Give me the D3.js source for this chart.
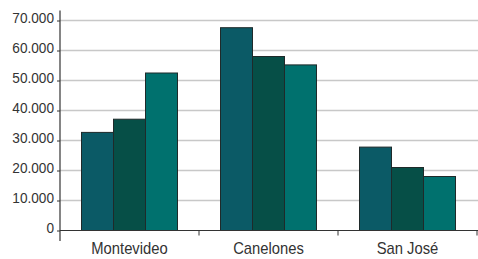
<!DOCTYPE html>
<html>
<head>
<script src="https://d3js.org/d3.v7.min.js"></script>
<style>
body { margin: 0; background: #fff; }
text { font-family: "Liberation Sans", Arial, sans-serif; fill: #333; }
</style>
</head>
<body>
<script>
var categories = ["Montevideo", "Canelones", "San José"];
var series1 = [32700, 67600, 27800];
var series2 = [37100, 58000, 21000];
var series3 = [52500, 55200, 18000];
var yTicks = [0, 10000, 20000, 30000, 40000, 50000, 60000, 70000];
var colors = ["#0b5a66", "#064f47", "#00716e"];

var width = 478, height = 259;
var svg = d3.select("body").append("svg")
  .attr("width", width)
  .attr("height", height);

var x = d3.scaleBand()
  .domain(categories)
  .range([60, 477]);

var y = d3.scaleLinear()
  .domain([0, 70000])
  .range([230.5, 20.5]);

var fmt = function(d) { return d === 0 ? "0" : d3.format(",")(d).replace(/,/g, "."); };

// grid
svg.selectAll(".grid")
  .data(yTicks.slice(1))
  .enter().append("line")
  .attr("x1", 60).attr("x2", width)
  .attr("y1", function(d) { return y(d); })
  .attr("y2", function(d) { return y(d); })
  .attr("stroke", "#c8c8c8")
  .attr("stroke-width", 1.5);

var series = [series1, series2, series3];
var inner = d3.scaleBand().domain([0, 1, 2]).range([0, 96]);
var offset = (x.bandwidth() - 96) / 2;

series.forEach(function(s, si) {
  svg.selectAll(".bar" + si)
    .data(s)
    .enter().append("rect")
    .attr("x", function(d, i) { return x(categories[i]) + offset + inner(si); })
    .attr("y", function(d) { return y(d); })
    .attr("width", inner.bandwidth())
    .attr("height", function(d) { return y(0) - y(d); })
    .attr("fill", colors[si])
    .attr("stroke", "#1f2a2a")
    .attr("stroke-width", 1);
});

// y axis (condensed look via horizontal scale)
var sy = 0.88;
var yAxis = d3.axisLeft(y).tickValues(yTicks).tickSize(3).tickFormat(fmt);
var gy = svg.append("g").attr("transform", "translate(60,0)").call(yAxis);
gy.select(".domain").remove();
gy.selectAll("line").attr("stroke", "#333");
gy.selectAll("text")
  .attr("font-size", 15.5)
  .attr("x", -6 / sy)
  .attr("dy", "0.15em")
  .attr("transform", "scale(" + sy + ",1)");
svg.append("line")
  .attr("x1", 60).attr("x2", 60)
  .attr("y1", 10.5).attr("y2", 241)
  .attr("stroke", "#333").attr("stroke-width", 1.2);

// x axis
svg.append("line")
  .attr("x1", 60).attr("x2", width)
  .attr("y1", y(0)).attr("y2", y(0))
  .attr("stroke", "#333").attr("stroke-width", 1.2);
svg.selectAll(".xtick")
  .data(categories)
  .enter().append("line")
  .attr("x1", function(d) { return x(d) + x.bandwidth(); })
  .attr("x2", function(d) { return x(d) + x.bandwidth(); })
  .attr("y1", y(0)).attr("y2", y(0) + 5)
  .attr("stroke", "#333");
svg.selectAll(".xlabel")
  .data(categories)
  .enter().append("text")
  .attr("transform", function(d) { return "translate(" + (x(d) + x.bandwidth() / 2) + ",254) scale(0.87,1)"; })
  .attr("text-anchor", "middle")
  .attr("font-size", 17)
  .text(function(d) { return d; });
</script>
</body>
</html>
